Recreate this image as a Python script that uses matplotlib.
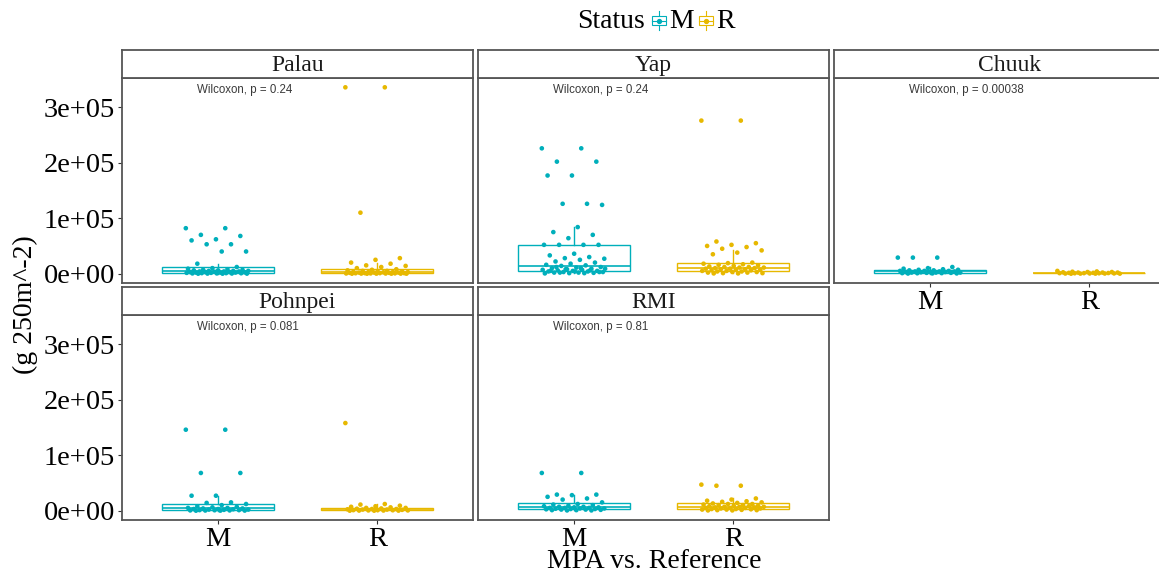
import matplotlib
matplotlib.use("Agg")
import matplotlib.pyplot as plt
from matplotlib.patches import Rectangle
from matplotlib.lines import Line2D
from matplotlib.legend_handler import HandlerBase
import numpy as np

# biomass values (g 250m^-2), in thousands
palau_M = [82, 82, 70, 68, 62, 60, 53, 53, 40, 40, 18, 12, 10, 9, 8, 7, 7, 6, 6, 5, 5, 5,
           4, 4, 4, 3.5, 3, 3, 3, 2.5, 2, 2, 2, 1.5, 1.5, 1, 1, 0.8, 0.5, 0.5, 0.3, 0.2, 0.1, 0, 0]
palau_R = [336, 336, 110, 28, 25, 20, 18, 15, 14, 12, 10, 8, 7, 6, 5, 5, 4, 4, 3.5, 3, 3, 3,
           2.5, 2, 2, 2, 1.5, 1.5, 1, 1, 1, 0.8, 0.6, 0.5, 0.4, 0.3, 0.2, 0.1, 0.1, 0, 0, 0, 0]
yap_M = [226, 226, 202, 202, 177, 177, 126, 126, 124, 84, 75, 70, 64, 52, 52, 52, 52, 36, 33,
         30, 28, 27, 25, 22, 20, 18, 16, 15, 14, 12, 11, 10, 9, 8, 7, 7, 6, 5, 5, 4, 4, 3, 3,
         2, 2, 1.5, 1, 0.5, 1, 2, 3, 4, 5, 6, 8, 9, 10, 12]
yap_R = [276, 276, 58, 55, 52, 50, 48, 45, 42, 38, 35, 20, 19, 18, 17, 16, 15, 14, 13, 12, 12,
         11, 11, 10, 10, 9, 9, 8, 8, 7, 7, 6, 6, 5, 5, 4, 4, 3, 3, 2, 2, 1, 1, 0.5, 0.5]
chuuk_M = [29, 29, 29, 12, 10, 9, 8, 7, 7, 6, 6, 5, 5, 5, 4, 4, 4, 3, 3, 3, 2.5, 2, 2, 2,
           1.5, 1.5, 1, 1, 0.8, 0.5, 0.5, 0.3]
chuuk_R = [5, 4, 3.5, 3, 3, 2.5, 2, 2, 2, 1.5, 1.5, 1.2, 1, 1, 0.8, 0.8, 0.5, 0.5, 0.3, 0.3,
           0.2, 0.1, 0.1, 0]
pohnpei_M = [146, 146, 68, 68, 27, 27, 15, 14, 12, 10, 8, 7, 6, 5, 5, 4, 4, 3, 3, 2.5, 2, 2,
             1.5, 1, 1, 0.8, 0.5, 0.5, 0.3, 0.2, 0.1, 0]
pohnpei_R = [158, 12, 11, 9, 8, 7, 6, 5, 5, 4, 3.5, 3, 3, 2.5, 2, 2, 1.5, 1, 1, 0.8, 0.5, 0.5,
             0.3, 0.2, 0.1, 0, 0]
rmi_M = [68, 68, 29, 29, 28, 25, 22, 20, 15, 12, 11, 10, 9, 8, 7, 7, 6, 6, 5, 5, 5, 4, 4, 3.5,
         3, 3, 2.5, 2, 2, 1.5, 1, 1, 0.5, 0.5]
rmi_R = [47, 45, 45, 22, 20, 18, 17, 16, 15, 14, 13, 12, 12, 11, 10, 10, 9, 9, 8, 8, 7, 7, 7,
         6, 6, 5, 5, 5, 4, 4, 3, 3, 2.5, 2, 2, 1.5, 1, 1, 0.5, 0.5]

sites = ["Palau", "Yap", "Chuuk", "Pohnpei", "RMI"]
site_M = [palau_M, yap_M, chuuk_M, pohnpei_M, rmi_M]
site_R = [palau_R, yap_R, chuuk_R, pohnpei_R, rmi_R]
pvals = ["0.24", "0.24", "0.00038", "0.081", "0.81"]
status = ["M", "R"]
colors = {"M": "#00AFBB", "R": "#E7B800"}

serif = "Liberation Serif"
W, H = 1159, 578
fig = plt.figure(figsize=(W / 100, H / 100), dpi=100)

col_left = [122, 478, 834]
pw = 351
rows = [(50, 78, 283), (287, 315, 520)]  # strip top, panel top, panel bottom
edge = "#555555"

ymin, ymax = -16800, 352800


def fx(x):
    return x / W


def fy(y):
    return 1 - y / H


class BoxKey(HandlerBase):
    def create_artists(self, legend, orig_handle, xd, yd, w, h, fontsize, trans):
        c = orig_handle.get_color()
        cx = xd + w / 2
        cy = yd + h / 2
        wh = Line2D([cx, cx], [yd - h * 0.05, yd + h * 1.05], color=c, lw=0.8, transform=trans)
        box = Rectangle((xd + w * 0.08, yd + h * 0.22), w * 0.84, h * 0.56, fc="white", ec=c,
                        lw=0.8, transform=trans)
        med = Line2D([xd + w * 0.08, xd + w * 0.92], [cy, cy], color=c, lw=0.8, transform=trans)
        dot = Line2D([cx], [cy], marker="o", ms=2.8, color=c, lw=0, transform=trans)
        return [wh, box, med, dot]


for i, site in enumerate(sites):
    r, c = divmod(i, 3)
    st, pt, pb = rows[r]
    left = col_left[c]
    ax = fig.add_axes([fx(left), fy(pb), pw / W, (pb - pt) / H])
    sax = fig.add_axes([fx(left), fy(pt), pw / W, (pt - st) / H])

    groups = [np.array(site_M[i]) * 1000, np.array(site_R[i]) * 1000]
    for k, (vals, s) in enumerate(zip(groups, status)):
        col = colors[s]
        ax.boxplot(vals, positions=[k + 1], widths=0.7, showfliers=False, patch_artist=True,
                   boxprops=dict(facecolor="white", edgecolor=col, lw=1),
                   medianprops=dict(color=col, lw=1.2),
                   whiskerprops=dict(color=col, lw=1), capprops=dict(lw=0))
        n = len(vals)
        jit = ((np.arange(n) * 0.618034) % 1 - 0.5) * 0.4
        ax.scatter(k + 1 + jit, vals, s=11, color=col, edgecolors="none", zorder=3)

    ax.set_xlim(0.4, 2.6)
    ax.set_ylim(ymin, ymax)
    ax.set_yticks([0, 1e5, 2e5, 3e5])
    ax.set_xticks([1, 2])
    for sp in ax.spines.values():
        sp.set_color(edge)
        sp.set_linewidth(1.3)
    ax.tick_params(length=3, width=0.8, color="#333333", labelsize=20.5, pad=2)
    if c == 0:
        ax.set_yticklabels(["0e+00", "1e+05", "2e+05", "3e+05"], fontfamily=serif)
    else:
        ax.set_yticklabels([])
        ax.tick_params(axis="y", length=0)
    if r == 1 or c == 2:
        ax.set_xticklabels(status, fontfamily=serif)
    else:
        ax.set_xticklabels([])
        ax.tick_params(axis="x", length=0)

    ax.text(0.87, 331000, "Wilcoxon, p = " + pvals[i], fontsize=8.3,
            family="Liberation Sans", color="#3a3a3a", ha="left", va="center")

    sax.set_xticks([])
    sax.set_yticks([])
    for sp in sax.spines.values():
        sp.set_color(edge)
        sp.set_linewidth(1.3)
    sax.text(0.5, 0.45, site, transform=sax.transAxes, ha="center", va="center",
             fontsize=17, family=serif, color="#1a1a1a")

fig.text(fx(654), fy(562), "MPA vs. Reference", ha="center", va="center",
         fontsize=20, family=serif)
fig.text(fx(25), fy(305), "(g 250m^-2)", ha="center", va="center", rotation=90,
         fontsize=20, family=serif)

fig.text(fx(577), fy(21), "Status", ha="left", va="center", fontsize=20, family=serif)
handles = [Line2D([], [], color=colors[s]) for s in status]
fig.legend(handles=handles, labels=status, handler_map={Line2D: BoxKey()}, ncol=2,
           loc="center left", bbox_to_anchor=(fx(651), fy(21)), frameon=False,
           prop={"family": serif, "size": 20}, handlelength=0.6, handleheight=0.55,
           handletextpad=0.05, columnspacing=0.15, borderpad=0, borderaxespad=0)

fig.savefig("out.png", dpi=100)
